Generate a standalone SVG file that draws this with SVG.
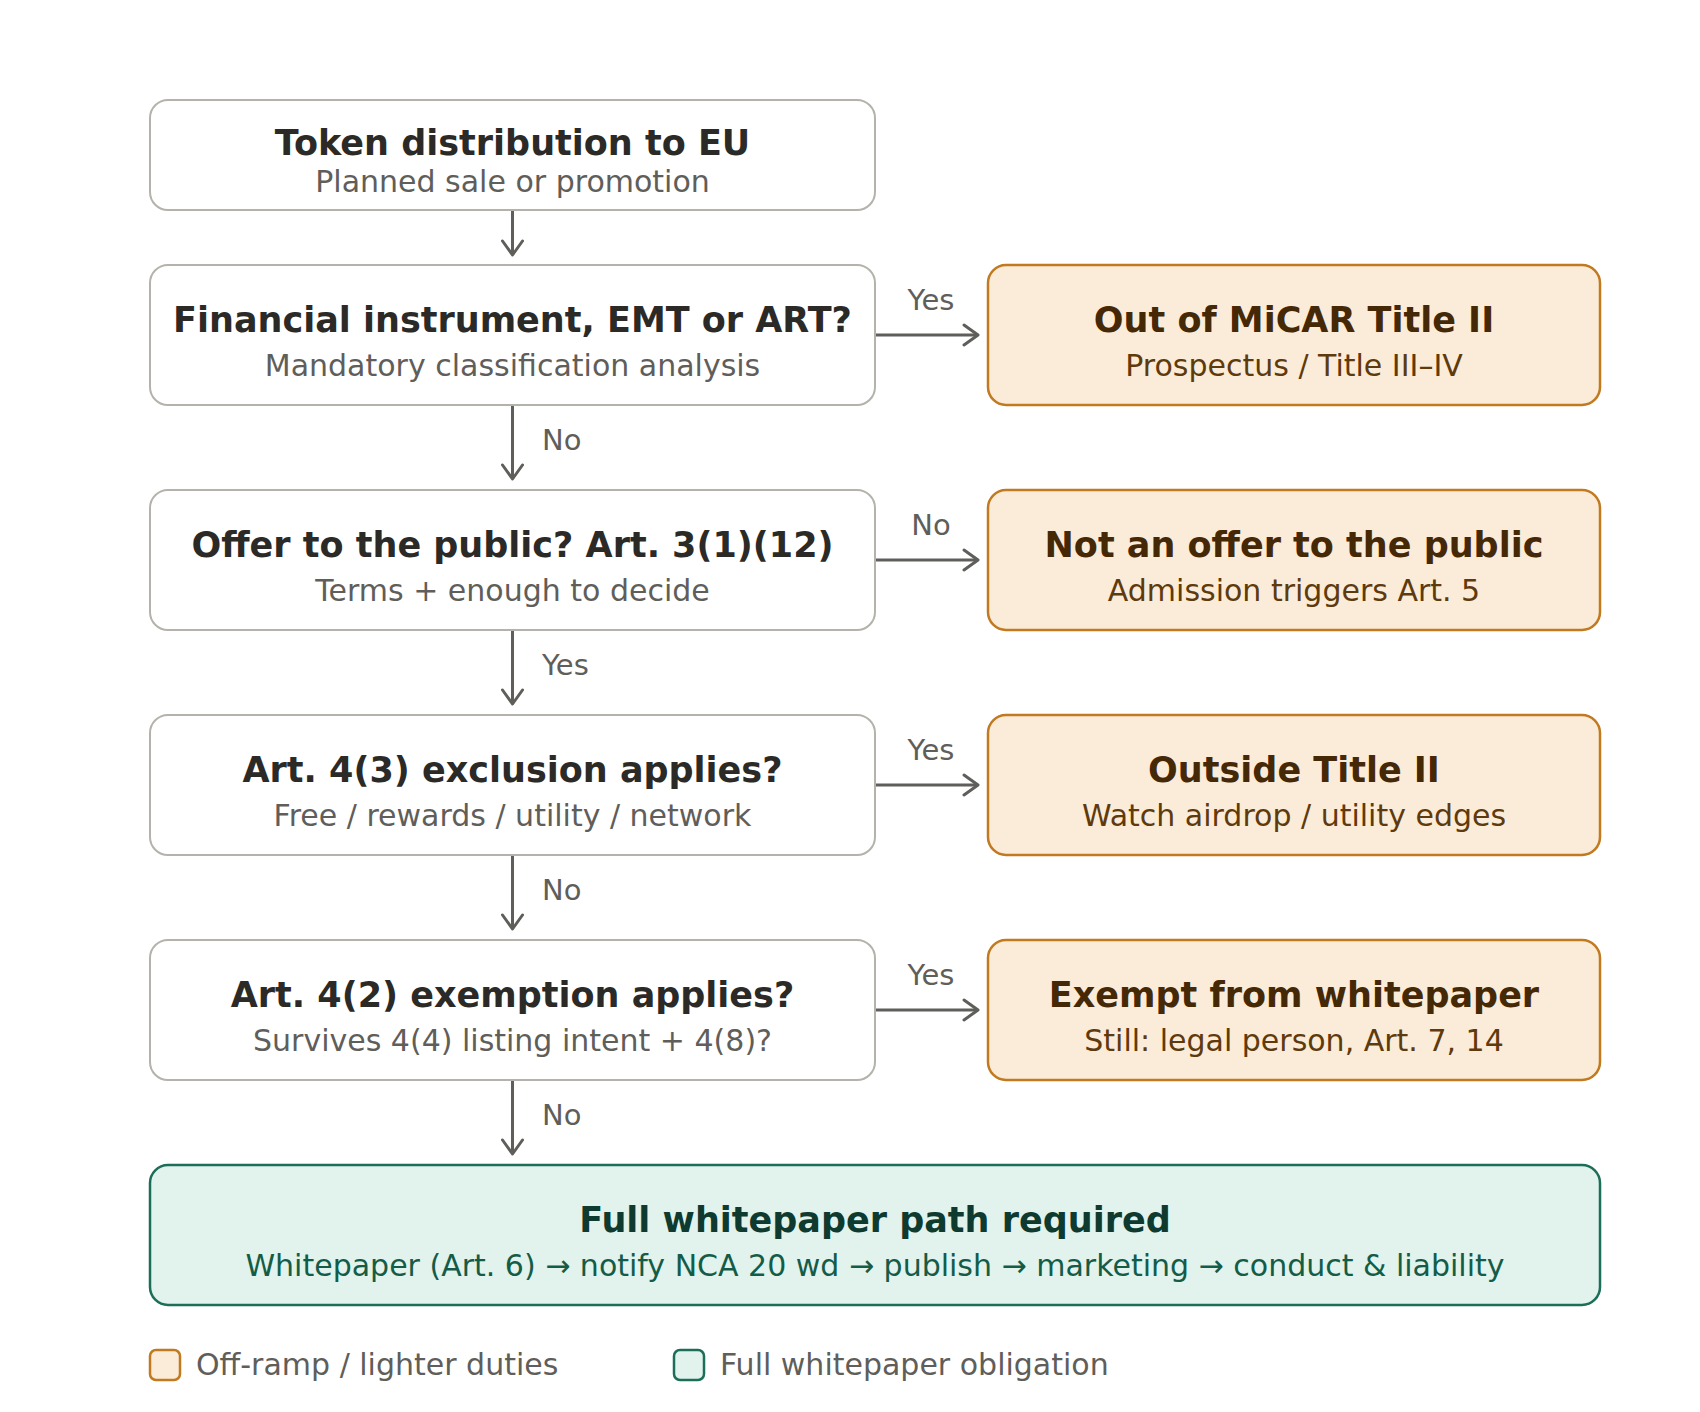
<svg xmlns="http://www.w3.org/2000/svg" width="1700" height="1412" viewBox="0 0 1700 1412">
<style>
text{font-family:"DejaVu Sans","Liberation Sans",sans-serif;}
.q rect{fill:#ffffff;stroke:#b4b2aa;stroke-width:2;}
.q .t{font-size:35px;font-weight:bold;fill:#2b2a27;text-anchor:middle;}
.q .s{font-size:30px;fill:#5f5e5a;text-anchor:middle;}
.o rect{fill:#fbecd9;stroke:#c17a20;stroke-width:2.5;}
.o .t{font-size:35px;font-weight:bold;fill:#452806;text-anchor:middle;}
.o .s{font-size:30px;fill:#5e3a0c;text-anchor:middle;}
.g rect{fill:#e1f3ec;stroke:#1d6e58;stroke-width:2.5;}
.g .t{font-size:35px;font-weight:bold;fill:#0e3a2f;text-anchor:middle;}
.g .s{font-size:30px;fill:#145c48;text-anchor:middle;}
.c line{stroke:#5f5e5a;stroke-width:3;marker-end:url(#arr);}
.lbl{font-size:29px;fill:#5f5e5a;}
.leg{font-size:30px;fill:#5f5e5a;}
</style>
<defs>
<marker id="arr" viewBox="-17 -12 19 24" refX="0" refY="0" markerWidth="19" markerHeight="24" markerUnits="userSpaceOnUse" orient="auto">
<path d="M-14,-10 L0,0 L-14,10" fill="none" stroke="#5f5e5a" stroke-width="3" stroke-linecap="round" stroke-linejoin="round"/>
</marker>
</defs>
<rect width="1700" height="1412" fill="#ffffff"/>

<g id="connectors" class="c">
<line x1="512.5" y1="210" x2="512.5" y2="255"/>
<line x1="512.5" y1="405" x2="512.5" y2="479"/>
<line x1="512.5" y1="630" x2="512.5" y2="704"/>
<line x1="512.5" y1="855" x2="512.5" y2="929"/>
<line x1="512.5" y1="1080" x2="512.5" y2="1154"/>
<line x1="875" y1="335" x2="978" y2="335"/>
<line x1="875" y1="560" x2="978" y2="560"/>
<line x1="875" y1="785" x2="978" y2="785"/>
<line x1="875" y1="1010" x2="978" y2="1010"/>
<text class="lbl" x="542" y="450">No</text>
<text class="lbl" x="542" y="675">Yes</text>
<text class="lbl" x="542" y="900">No</text>
<text class="lbl" x="542" y="1125">No</text>
<text class="lbl" x="931" y="310" text-anchor="middle">Yes</text>
<text class="lbl" x="931" y="535" text-anchor="middle">No</text>
<text class="lbl" x="931" y="760" text-anchor="middle">Yes</text>
<text class="lbl" x="931" y="985" text-anchor="middle">Yes</text>
</g>

<g id="start" class="q">
<rect x="150" y="100" width="725" height="110" rx="18"/>
<text class="t" x="512.5" y="155">Token distribution to EU</text>
<text class="s" x="512.5" y="192">Planned sale or promotion</text>
</g>
<g id="q1" class="q">
<rect x="150" y="265" width="725" height="140" rx="18"/>
<text class="t" x="512.5" y="332">Financial instrument, EMT or ART?</text>
<text class="s" x="512.5" y="376">Mandatory classification analysis</text>
</g>
<g id="q2" class="q">
<rect x="150" y="490" width="725" height="140" rx="18"/>
<text class="t" x="512.5" y="557">Offer to the public? Art. 3(1)(12)</text>
<text class="s" x="512.5" y="601">Terms + enough to decide</text>
</g>
<g id="q3" class="q">
<rect x="150" y="715" width="725" height="140" rx="18"/>
<text class="t" x="512.5" y="782">Art. 4(3) exclusion applies?</text>
<text class="s" x="512.5" y="826">Free / rewards / utility / network</text>
</g>
<g id="q4" class="q">
<rect x="150" y="940" width="725" height="140" rx="18"/>
<text class="t" x="512.5" y="1007">Art. 4(2) exemption applies?</text>
<text class="s" x="512.5" y="1051">Survives 4(4) listing intent + 4(8)?</text>
</g>

<g id="out1" class="o">
<rect x="988" y="265" width="612" height="140" rx="18"/>
<text class="t" x="1294" y="332">Out of MiCAR Title II</text>
<text class="s" x="1294" y="376">Prospectus / Title III–IV</text>
</g>
<g id="out2" class="o">
<rect x="988" y="490" width="612" height="140" rx="18"/>
<text class="t" x="1294" y="557">Not an offer to the public</text>
<text class="s" x="1294" y="601">Admission triggers Art. 5</text>
</g>
<g id="out3" class="o">
<rect x="988" y="715" width="612" height="140" rx="18"/>
<text class="t" x="1294" y="782">Outside Title II</text>
<text class="s" x="1294" y="826">Watch airdrop / utility edges</text>
</g>
<g id="out4" class="o">
<rect x="988" y="940" width="612" height="140" rx="18"/>
<text class="t" x="1294" y="1007">Exempt from whitepaper</text>
<text class="s" x="1294" y="1051">Still: legal person, Art. 7, 14</text>
</g>

<g id="full" class="g">
<rect x="150" y="1165" width="1450" height="140" rx="18"/>
<text class="t" x="875" y="1232">Full whitepaper path required</text>
<text class="s" x="875" y="1276">Whitepaper (Art. 6) → notify NCA 20 wd → publish → marketing → conduct &amp; liability</text>
</g>

<g id="legend">
<g class="o"><rect x="150" y="1350" width="30" height="30" rx="6"/></g>
<text class="leg" x="196" y="1375">Off-ramp / lighter duties</text>
<g class="g"><rect x="674" y="1350" width="30" height="30" rx="6"/></g>
<text class="leg" x="720" y="1375">Full whitepaper obligation</text>
</g>
</svg>
